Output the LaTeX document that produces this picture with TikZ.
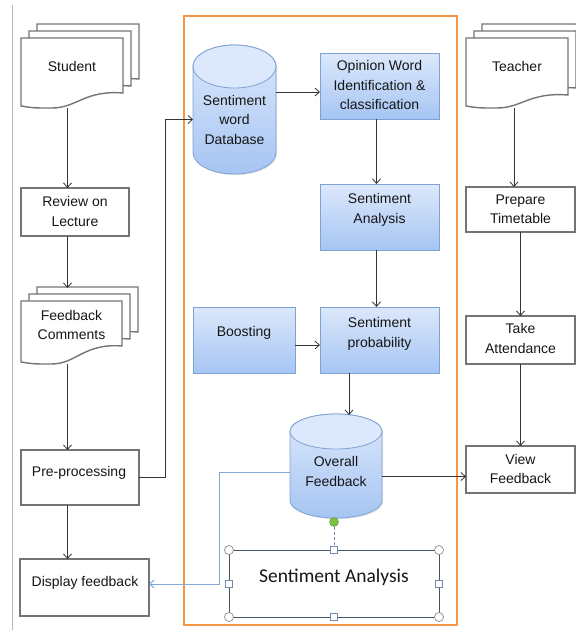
\documentclass[tikz,border=0pt]{standalone}
\usepackage{fontspec}
\setmainfont{Liberation Sans}
\newfontfamily\calibfont{Carlito}
\usetikzlibrary{arrows.meta,shadows,calc}

\definecolor{linegrey}{HTML}{747474}
\definecolor{conn}{HTML}{353535}
\definecolor{frameorange}{HTML}{F79646}
\definecolor{bluetop}{HTML}{DCE8FB}
\definecolor{bluebot}{HTML}{A6C5F3}
\definecolor{blueedge}{HTML}{7DA2D4}
\definecolor{bluelink}{HTML}{82A8D6}
\definecolor{txtc}{HTML}{161616}
\definecolor{railgrey}{HTML}{B4B8BE}
\definecolor{selframe}{HTML}{44546A}
\definecolor{handlegrey}{HTML}{8C8C8C}
\definecolor{handleblue}{HTML}{6F8BAE}
\definecolor{rotgreen}{HTML}{7CC242}

% document symbol: left x, top y, width, right-side height, lowest point of the wave
\newcommand\docshape[5]{%
  \filldraw[docline] (#1,#2) -- ({#1+#3},#2) -- ({#1+#3},{#2+#4})
    .. controls ({#1+0.62*#3},{#2+#4-3}) and ({#1+0.55*#3},{#2+#5}) .. ({#1+0.3*#3},{#2+#5})
    .. controls ({#1+0.12*#3},{#2+#5}) .. (#1,{#2+#5-2}) -- cycle;}
% stack of three pages
\newcommand\docstack[5]{%
  \docshape{#1+16}{#2-14}{#3}{#4}{#5}%
  \docshape{#1+8}{#2-7}{#3}{#4}{#5}%
  \docshape{#1}{#2}{#3}{#4}{#5}}
% database cylinder: left x, right x, top y, bottom y, radius of the ends
\newcommand\dbcylinder[5]{%
  \pgfmathsetmacro\cylrx{(#2-#1)/2}%
  \path[top color=bluetop, bottom color=bluebot, draw=blueedge, line width=0.8pt,
        drop shadow={shadow xshift=1.2pt, shadow yshift=-1.2pt, opacity=0.2}]
    (#1,{#3+#5}) -- (#1,{#4-#5})
    arc[start angle=180, end angle=360, x radius=\cylrx pt, y radius=#5pt]
    -- (#2,{#3+#5})
    arc[start angle=0, end angle=180, x radius=\cylrx pt, y radius=#5pt] -- cycle;
  \filldraw[fill=bluetop, draw=blueedge, line width=0.8pt]
    ({(#1+#2)/2},{#3+#5}) ellipse [x radius=\cylrx pt, y radius=#5pt];}

\begin{document}
\begin{tikzpicture}[x=1pt, y=-1pt,
  every node/.style={inner sep=0pt, outer sep=0pt},
  txt/.style={align=center, text=txtc, font=\fontsize{14}{19.5}\selectfont},
  plainbox/.style={draw=linegrey, line width=1.4pt, fill=white},
  bluebox/.style={draw=blueedge, line width=0.8pt, top color=bluetop, bottom color=bluebot,
    drop shadow={shadow xshift=1.2pt, shadow yshift=-1.2pt, opacity=0.2}},
  docline/.style={draw=linegrey, line width=1.4pt, fill=white},
  arr/.style={draw=conn, line width=0.8pt, -{Straight Barb[length=4.5pt,width=8pt]}},
  bluearr/.style={draw=bluelink, line width=1pt, -{Straight Barb[length=4.5pt,width=8pt]}},
  cornerhandle/.style={circle, draw=handlegrey, fill=white, line width=0.7pt, minimum size=9pt},
  sidehandle/.style={rectangle, draw=handleblue, fill=white, line width=0.7pt, minimum size=7pt},
]
\useasboundingbox[fill=white] (0,0) rectangle (576,630);

% left rail and the processing frame
\draw[railgrey, line width=1pt] (12,5) -- (12,630);
\draw[frameorange, line width=1.6pt] (184,16) rectangle (457,625);

% ---------------- student lane ----------------
\docstack{21}{38}{102}{55}{70}
\node[minimum width=118pt, minimum height=84pt] (student) at (80,66) {};
\node[txt] (studentt) at (72,66) {Student};

\node[plainbox, minimum width=108pt, minimum height=48pt] (review) at (75,212) {};
\node[txt] (reviewt) at (75,211.5) {Review on\\Lecture};

\docstack{21}{301}{101}{45}{63}
\node[minimum width=117pt, minimum height=76pt] (fb) at (79.5,326) {};
\node[txt] (fbt) at (71.5,325) {Feedback\\Comments};

\node[plainbox, minimum width=118pt, minimum height=55pt] (pre) at (80,477.5) {};
\node[txt] (pret) at (79,473) {Pre-processing};

\node[plainbox, minimum width=129pt, minimum height=57pt] (disp) at (84.5,587.5) {};
\node[txt] (dispt) at (85,583) {Display feedback};

% ---------------- processing block ----------------
\dbcylinder{193}{276}{45}{174}{21.5}
\node[minimum width=83pt, minimum height=129pt] (db) at (234.5,109.5) {};
\node[txt] (dbt) at (234.5,119.5) {Sentiment\\word\\Database};

\node[bluebox, minimum width=119pt, minimum height=66pt] (opin) at (379.5,86) {};
\node[txt] (opint) at (379.5,85) {Opinion Word\\Identification \&\\classification};

\node[bluebox, minimum width=119pt, minimum height=66pt] (sa) at (379.5,217) {};
\node[txt] (sat) at (379.5,210) {Sentiment\\Analysis};

\node[bluebox, minimum width=102pt, minimum height=66pt] (boost) at (244,340) {};
\node[txt] (boostt) at (244,333) {Boosting};

\node[bluebox, minimum width=119pt, minimum height=66pt] (prob) at (379.5,340) {};
\node[txt] (probt) at (379.5,334) {Sentiment\\probability};

\dbcylinder{290}{382}{414}{518}{17.5}
\node[minimum width=92pt, minimum height=104pt] (ov) at (336,466) {};
\node[txt] (ovt) at (336,471.5) {Overall\\Feedback};

% selected text box with its handles
\node[draw=selframe, line width=1pt, minimum width=210pt, minimum height=67pt] (satb) at (334,583.5) {};
\node[text=txtc, font=\calibfont\fontsize{19.5}{23}\selectfont] (satbt) at (334,577) {Sentiment Analysis};
\node[circle, fill=rotgreen, draw=rotgreen!75!black, line width=0.4pt, minimum size=9pt] (rot) at (334,522) {};
\draw[handleblue, line width=0.8pt, dash pattern=on 3pt off 2pt] (rot) -- (satb.north);
\foreach \a in {north west, north east, south west, south east}
  \node[cornerhandle] at (satb.\a) {};
\foreach \a in {north, south, west, east}
  \node[sidehandle] at (satb.\a) {};

% ---------------- teacher lane ----------------
\docstack{466}{38}{102}{57}{70}
\node[minimum width=118pt, minimum height=84pt] (teacher) at (525,66) {};
\node[txt] (teachert) at (517,66) {Teacher};

\node[plainbox, minimum width=109pt, minimum height=45pt] (prep) at (520.5,209.5) {};
\node[txt] (prept) at (520.5,209) {Prepare\\Timetable};

\node[plainbox, minimum width=109pt, minimum height=48pt] (take) at (520.5,340) {};
\node[txt] (taket) at (520.5,338.5) {Take\\Attendance};

\node[plainbox, minimum width=109pt, minimum height=47pt] (view) at (520.5,469.5) {};
\node[txt] (viewt) at (520.5,469) {View\\Feedback};

% ---------------- connectors ----------------
\coordinate (lx) at (67.5,0);
\draw[arr] (lx |- student.south) -- (lx |- review.north);
\draw[arr] (lx |- review.south) -- (lx |- fb.north);
\draw[arr] (lx |- fb.south) -- (lx |- pre.north);
\draw[arr] (lx |- pre.south) -- (lx |- disp.north);
\draw[arr] (pre.east) -- ([xshift=26pt]pre.east) |- (db.west |- dbt.center);

\coordinate (dbin) at ([yshift=-6pt]opin.west);
\draw[arr] (db.east |- dbin) -- (dbin);
\draw[arr] ([xshift=-3pt]opin.south) -- ([xshift=-3pt]sa.north);
\draw[arr] ([xshift=-3pt]sa.south) -- ([xshift=-3pt]prob.north);
\coordinate (boostin) at ([yshift=-5pt]prob.west);
\draw[arr] (boost.east |- boostin) -- (boostin);
\coordinate (ovtop) at (349,415);
\draw[arr] (prob.south -| ovtop) -- (ovtop);

\coordinate (viewin) at ([yshift=-7pt]view.west);
\draw[arr] (ov.east |- viewin) -- (viewin);
\coordinate (dispin) at ([yshift=3.5pt]disp.east);
\draw[bluearr] (ov.west |- 0,472) -| (219,584) -- (dispin);

\coordinate (tx) at (514,0);
\coordinate (ty) at (520.5,0);
\draw[arr] (tx |- teacher.south) -- (tx |- prep.north);
\draw[arr] (ty |- prep.south) -- (ty |- take.north);
\draw[arr] (ty |- take.south) -- (ty |- view.north);
\end{tikzpicture}
\end{document}
